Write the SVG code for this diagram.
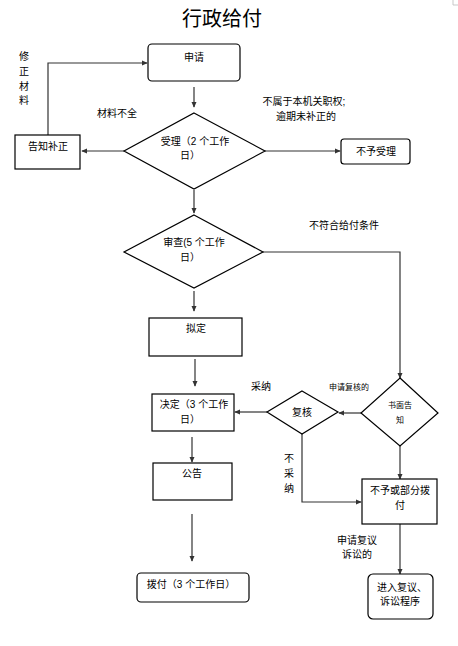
<svg xmlns="http://www.w3.org/2000/svg" width="458" height="646" viewBox="0 0 458 646">
<style>
text{font-family:"Liberation Sans","Noto Sans CJK SC",sans-serif;font-size:10px;fill:#000;text-anchor:middle}
.sm{font-size:8px}
.title{font-size:20px}
.box{fill:#fff;stroke:#000;stroke-width:1.2}
.ln{fill:none;stroke:#333;stroke-width:1.2}
</style>
<defs>
<marker id="ah" viewBox="0 0 8 8" refX="7" refY="4" markerWidth="6" markerHeight="6" orient="auto" markerUnits="userSpaceOnUse">
<path d="M0,0.5 L8,4 L0,7.5 Z" fill="#333"/>
</marker>
</defs>
<rect width="458" height="646" fill="#fff"/>
<path d="M453,0 V5 H458" fill="none" stroke="#bbb" stroke-width="0.8"/>
<text class="title" x="222" y="26">行政给付</text>

<g id="connectors">
<line class="ln" x1="194" y1="87" x2="194" y2="107" marker-end="url(#ah)"/>
<line class="ln" x1="124" y1="151" x2="82" y2="151" marker-end="url(#ah)"/>
<polyline class="ln" points="48,135 48,63 147,63" marker-end="url(#ah)"/>
<line class="ln" x1="265" y1="151" x2="340" y2="151" marker-end="url(#ah)"/>
<line class="ln" x1="194" y1="190" x2="194" y2="213" marker-end="url(#ah)"/>
<polyline class="ln" points="263,252 400,252 400,378" marker-end="url(#ah)"/>
<line class="ln" x1="194" y1="291" x2="194" y2="311" marker-end="url(#ah)"/>
<line class="ln" x1="195" y1="359" x2="195" y2="386" marker-end="url(#ah)"/>
<line class="ln" x1="267" y1="412" x2="235" y2="412" marker-end="url(#ah)"/>
<line class="ln" x1="361" y1="413" x2="339" y2="413" marker-end="url(#ah)"/>
<polyline class="ln" points="302,434 302,502 361,502" marker-end="url(#ah)"/>
<line class="ln" x1="400" y1="446" x2="400" y2="479" marker-end="url(#ah)"/>
<line class="ln" x1="400" y1="524" x2="400" y2="574" marker-end="url(#ah)"/>
<line class="ln" x1="192" y1="437" x2="192" y2="462" marker-end="url(#ah)"/>
<line class="ln" x1="192" y1="514" x2="192" y2="561" marker-end="url(#ah)"/>
</g>

<g id="labels">
<text x="24" y="60">修</text>
<text x="24" y="75">正</text>
<text x="24" y="90">材</text>
<text x="24" y="104">料</text>
<text x="117" y="117">材料不全</text>
<text x="304" y="105">不属于本机关职权;</text>
<text x="306" y="120">逾期未补正的</text>
<text x="344" y="229">不符合给付条件</text>
<text x="261" y="390">采纳</text>
<text class="sm" x="349" y="390">申请复核的</text>
<text x="289" y="462">不</text>
<text x="289" y="477">采</text>
<text x="289" y="492">纳</text>
<text x="357" y="544">申请复议</text>
<text x="357" y="558">诉讼的</text>
</g>

<g id="apply"><rect class="box" x="148" y="44" width="92" height="37" rx="4"/><text x="194" y="61">申请</text></g>
<g id="accept"><polygon class="box" points="194,113 265,151 194,189 124,151"/><text x="195" y="145">受理（2 个工作</text><text x="190" y="159">日）</text></g>
<g id="notify"><rect class="box" x="15" y="135" width="65" height="34"/><text x="48" y="150">告知补正</text></g>
<g id="reject"><rect class="box" x="341" y="139" width="69" height="25" rx="3"/><text x="376" y="155">不予受理</text></g>
<g id="review"><polygon class="box" points="194,215 263,252 194,288 124,252"/><text x="194" y="246">审查(5 个工作</text><text x="190" y="261">日）</text></g>
<g id="draft"><rect class="box" x="149" y="318" width="93" height="38"/><text x="196" y="332">拟定</text></g>
<g id="decide"><rect class="box" x="152" y="394" width="82" height="37"/><text x="194" y="408">决定（3 个工作</text><text x="190" y="423">日）</text></g>
<g id="recheck"><polygon class="box" points="302,391 338,412 302,434 267,412"/><text x="302" y="416">复核</text></g>
<g id="written"><polygon class="box" points="400,378 438,413 400,446 361,413"/><text class="sm" x="400" y="408">书面告</text><text class="sm" x="400" y="423">知</text></g>
<g id="announce"><rect class="box" x="153" y="463" width="79" height="37"/><text x="192" y="477">公告</text></g>
<g id="partial"><rect class="box" x="362" y="479" width="75" height="45"/><text x="400" y="494">不予或部分拨</text><text x="400" y="509">付</text></g>
<g id="pay"><rect class="box" x="137" y="573" width="112" height="29" rx="4"/><text x="191" y="588">拨付（3 个工作日）</text></g>
<g id="appeal"><rect class="box" x="368" y="574" width="65" height="45" rx="5"/><text x="402" y="591">进入复议、</text><text x="400" y="605">诉讼程序</text></g>
</svg>
